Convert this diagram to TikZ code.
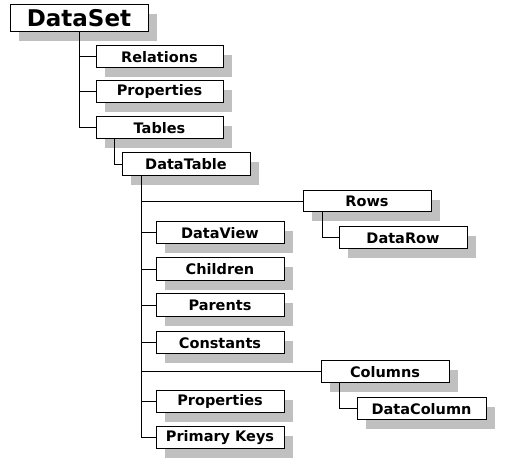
\documentclass[tikz,border=0pt]{standalone}
\usepackage{fontspec}
\setmainfont{DejaVu Sans}
\usetikzlibrary{shadows}
\definecolor{shadowgray}{HTML}{C0C0C0}
\tikzset{
  box/.style={draw=black, fill=white, line width=1pt, anchor=north west,
    minimum width=128pt, minimum height=22pt, inner sep=0pt, outer sep=0pt,
    font=\fontsize{14.5}{16}\selectfont\bfseries,
    general shadow={fill=shadowgray, shadow xshift=9pt, shadow yshift=-9pt}},
  bigbox/.style={box, minimum width=138pt, minimum height=27pt,
    font=\fontsize{23}{25}\selectfont\bfseries},
  conn/.style={draw=black, line width=1pt}
}
\begin{document}
\begin{tikzpicture}[x=1pt,y=-1pt]
\useasboundingbox (0,0) rectangle (523,473);
\node[bigbox] (ds) at (10,5) {DataSet};
\node[box, minimum width=127pt] (rel) at (96,46) {Relations};
\node[box, minimum width=127pt] (prop) at (96,81) {Properties};
\node[box, minimum width=127pt] (tables) at (96,117) {Tables};
\node[box, minimum height=23pt] (dt) at (122,153) {DataTable};
\node[box, minimum height=21pt] (rows) at (303,191) {Rows};
\node[box] (datarow) at (339,227) {DataRow};
\node[box] (dataview) at (156,222) {DataView};
\node[box, minimum height=23pt] (children) at (156,258) {Children};
\node[box, minimum height=23pt] (parents) at (156,294) {Parents};
\node[box] (constants) at (156,332) {Constants};
\node[box] (columns) at (321,361) {Columns};
\node[box, minimum width=129pt] (datacolumn) at (357,398) {DataColumn};
\node[box] (props2) at (156,391) {Properties};
\node[box] (pk) at (156,427) {Primary Keys};
% DataSet tree
\draw[conn] (ds.south) |- (tables.west);
\draw[conn] (ds.south |- rel.west) -- (rel.west);
\draw[conn] (ds.south |- prop.west) -- (prop.west);
% Tables -> DataTable
\coordinate (tabx) at ([xshift=18pt]tables.south west);
\draw[conn] (tabx) |- (dt.west);
% DataTable tree
\coordinate (dtx) at ([xshift=19pt]dt.south west);
\draw[conn] (dtx) |- (pk.west);
\draw[conn] (dtx |- rows.west) -- (rows.west);
\draw[conn] (dtx |- dataview.west) -- (dataview.west);
\draw[conn] (dtx |- children.west) -- (children.west);
\draw[conn] (dtx |- parents.west) -- (parents.west);
\draw[conn] (dtx |- constants.west) -- (constants.west);
\draw[conn] (dtx |- columns.west) -- (columns.west);
\draw[conn] (dtx |- props2.west) -- (props2.west);
% Rows -> DataRow
\coordinate (rowx) at ([xshift=19pt]rows.south west);
\draw[conn] (rowx) |- (datarow.west);
% Columns -> DataColumn
\coordinate (colx) at ([xshift=18pt]columns.south west);
\draw[conn] (colx) |- (datacolumn.west);
\end{tikzpicture}
\end{document}
